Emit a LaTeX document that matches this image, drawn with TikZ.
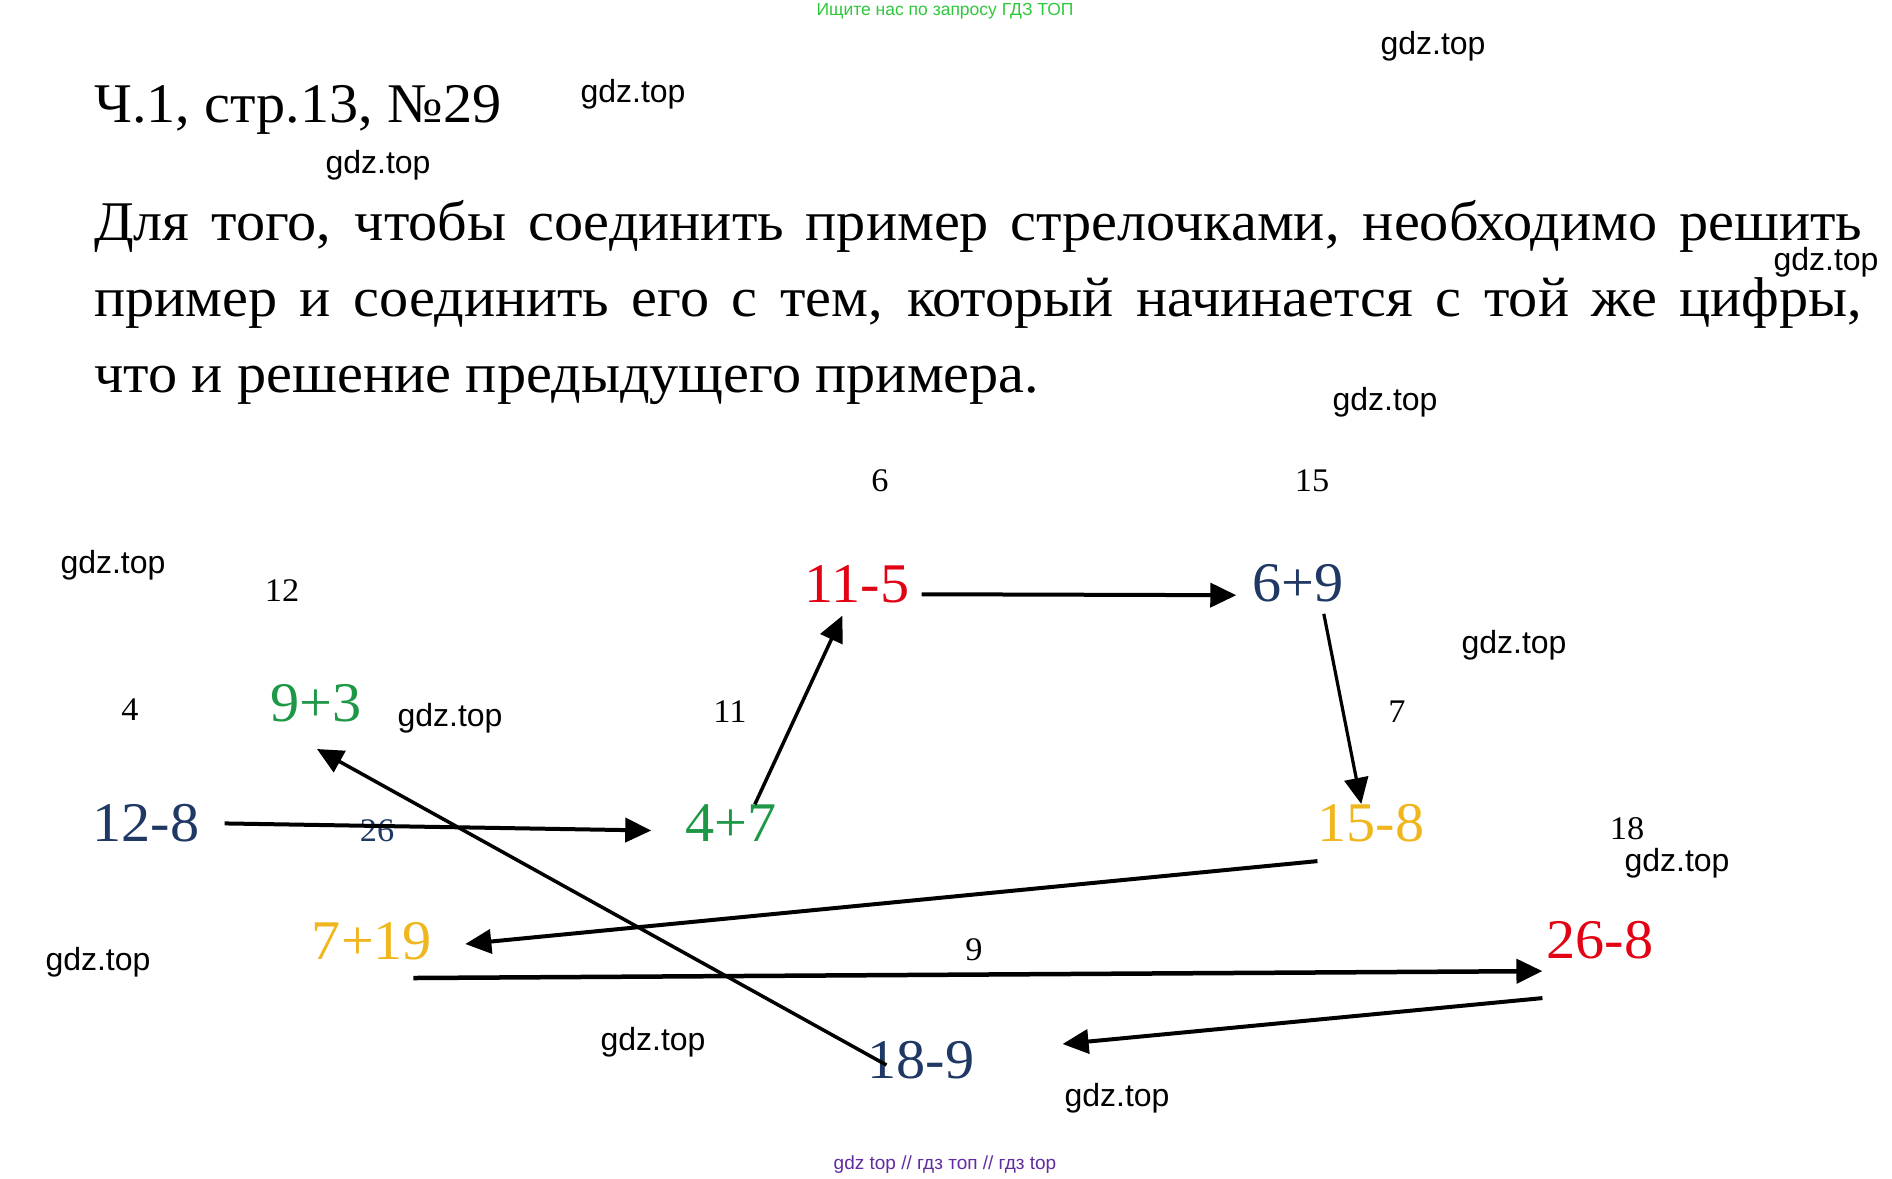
\documentclass[tikz,border=0pt]{standalone}
\usepackage{fontspec}
\setmainfont[FakeStretch=1.04]{Liberation Serif}
\newfontfamily\wmfont{Liberation Sans}
\usepackage{tikz}
\usetikzlibrary{arrows.meta}

\definecolor{numred}{RGB}{226,4,20}
\definecolor{numblue}{RGB}{31,56,100}
\definecolor{numgreen}{RGB}{30,152,70}
\definecolor{numyellow}{RGB}{240,182,30}
\definecolor{wmgreen}{RGB}{46,200,60}
\definecolor{wmpurple}{RGB}{96,44,160}

\begin{document}
\begin{tikzpicture}[x=1pt, y=-1pt,
        num/.style={inner sep=0pt, font=\fontsize{56}{56}\selectfont},
        res/.style={inner sep=0pt, font=\fontsize{33}{33}\selectfont},
        wm/.style={inner sep=0pt, font=\wmfont\fontsize{32}{32}\selectfont},
        arr/.style={line width=4pt, -{Triangle[length=26pt,width=24pt]}}]
    \useasboundingbox (0,0) rectangle (1892,1178);

    \node[inner sep=0pt, text=wmgreen, font=\wmfont\fontsize{17.5}{17.5}\selectfont] (topnote) at (945,11) {Ищите нас по запросу ГДЗ ТОП};
    \node[inner sep=0pt, anchor=base west, font=\fontsize{56}{56}\selectfont] (title) at (94,122) {Ч.1, стр.13, №29};
    \node[inner sep=0pt, anchor=base west, text width=1768pt, align=justify,
        font=\fontsize{56}{76}\selectfont] (task) at (94,240)
        {\hyphenpenalty=10000 Для того, чтобы соединить пример стрелочками, необходимо решить\linebreak
        пример и соединить его с тем, который начинается с той же цифры,\linebreak
        что и решение предыдущего примера.};

    \node[num, numblue] (n128) at (146,823) {12-8};
    \node[num, numgreen] (n47) at (731,823) {4+7};
    \node[num, numred] (n115) at (857,584) {11-5};
    \node[num, numblue] (n69) at (1298,583) {6+9};
    \node[num, numyellow] (n158) at (1371,823) {15-8};
    \node[num, numgreen] (n93) at (316,703) {9+3};
    \node[num, numyellow] (n719) at (372,941) {7+19};
    \node[num, numred] (n268) at (1600,940) {26-8};
    \node[num, numblue] (n189) at (921,1060) {18-9};

    \node[res] (r6) at (880,481) {6};
    \node[res] (r15) at (1312,481) {15};
    \node[res] (r12) at (282,591) {12};
    \node[res] (r4) at (130,710) {4};
    \node[res] (r11) at (730,712) {11};
    \node[res] (r7) at (1397,712) {7};
    \node[res] (r18) at (1627,829) {18};
    \node[res] (r9) at (974,950) {9};
    \node[res, numblue] (r26) at (377,831) {26};

    \foreach \x/\y [count=\i] in {1433/46, 633/94, 378/165, 1826/262, 1385/402, 113/565,
            1514/645, 450/718, 1677/863, 98/962, 653/1042, 1117/1098}
        \node[wm] (wm\i) at (\x,\y) {gdz.top};

    \draw[arr, shorten <=25pt, shorten >=34pt] (n128.east) -- (n47.190);
    \draw[arr, line width=3.5pt, shorten >=14pt] (n47.38) -- (n115);
    \draw[arr, shorten <=12pt, shorten >=16pt] (n115.-11) -- (n69.195);
    \draw[arr, line width=3.2pt, shorten <=12pt] (n69.-39) -- (n158.117);
    \draw[arr] ([shift={(0,19)}]n158.south west) -- ([shift={(33,3)}]n719.east);
    \draw[arr, line width=4.5pt] ([shift={(-19,18)}]n719.south east) -- ([shift={(-4,12)}]n268.south west);
    \draw[arr] ([shift={(-4,39)}]n268.south west) -- ([shift={(88,-16)}]n189.east);
    \draw[arr, line width=3.5pt] ([shift={(19,5)}]n189.west) -- ([shift={(1,27)}]n93.south);

    \node[inner sep=0pt, text=wmpurple, font=\wmfont\fontsize{19}{19}\selectfont] (botnote) at (945,1165) {gdz top // гдз топ // гдз top};
\end{tikzpicture}
\end{document}
